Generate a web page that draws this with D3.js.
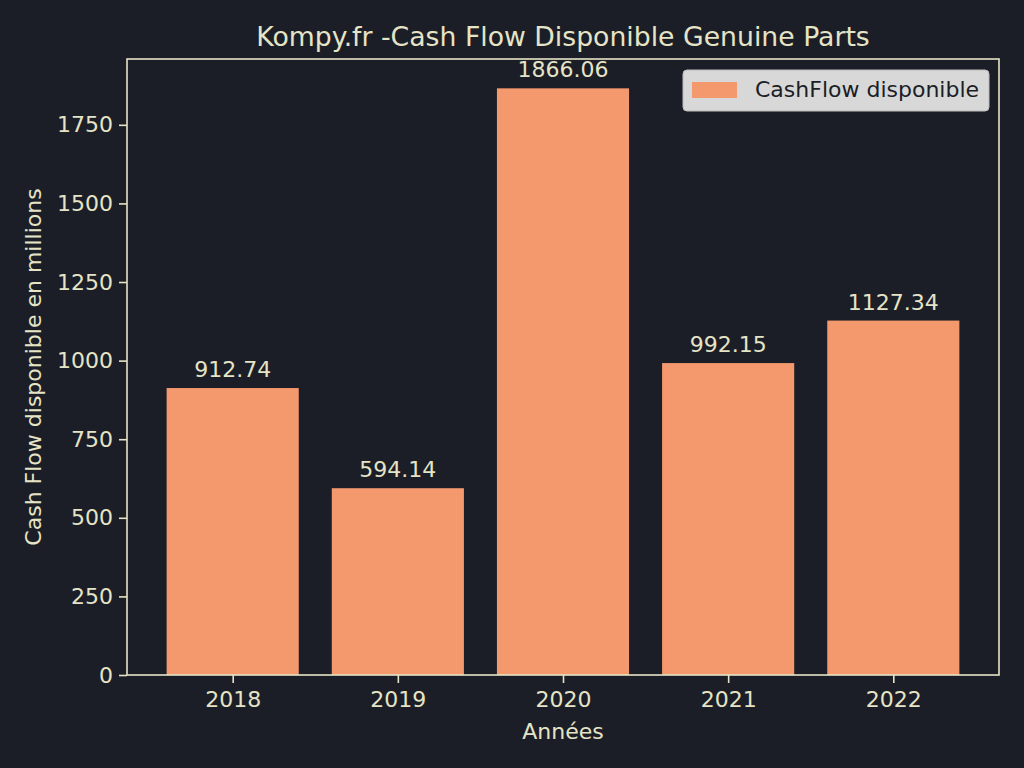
<!DOCTYPE html>
<html><head><meta charset="utf-8">
<script src="https://cdn.jsdelivr.net/npm/d3@7"></script>
<style>html,body{margin:0;padding:0;background:#1b1e26;}svg{display:block;}</style>
</head><body><svg id="c" width="1024" height="768"></svg>
<script>
const categories = ["2018","2019","2020","2021","2022"];
const values = [912.74, 594.14, 1866.06, 992.15, 1127.34];
const yTicks = [0,250,500,750,1000,1250,1500,1750];
const title = "Kompy.fr -Cash Flow Disponible Genuine Parts";
const xLabel = "Années";
const yLabel = "Cash Flow disponible en millions";
const legendLabel = "CashFlow disponible";

const W=1024,H=768;
const m={left:127,right:999,top:59,bottom:675};
const fg="#e6e4c6", barColor="#f4996e", font="DejaVu Sans, sans-serif";
const svg=d3.select("#c");
svg.append("rect").attr("width",W).attr("height",H).attr("fill","#1b1e26");

const n=categories.length;
const x=d3.scaleLinear().domain([-0.64,n-1+0.64]).range([m.left,m.right]);
const y=d3.scaleLinear().domain([0,d3.max(values)*1.05]).range([m.bottom,m.top]);
const bw=0.8;

svg.append("g").selectAll("rect").data(values).join("rect")
 .attr("x",(d,i)=>x(i-bw/2)).attr("width",(d,i)=>x(i+bw/2)-x(i-bw/2))
 .attr("y",d=>y(d)).attr("height",d=>y(0)-y(d)).attr("fill",barColor);

svg.append("g").selectAll("text").data(values).join("text")
 .attr("x",(d,i)=>x(i)).attr("y",d=>y(d)-11)
 .attr("text-anchor","middle").attr("fill",fg).attr("font-family",font).attr("font-size",22)
 .text(d=>d.toFixed(2));

// axes
const xAxis=d3.axisBottom(x).tickValues(d3.range(n)).tickFormat(i=>categories[i]).tickSizeOuter(0).tickSize(8).tickPadding(8);
const gx=svg.append("g").attr("transform",`translate(0,${m.bottom})`).call(xAxis);
const yAxis=d3.axisLeft(y).tickValues(yTicks).tickFormat(d3.format("d")).tickSizeOuter(0).tickSize(8).tickPadding(6);
const gy=svg.append("g").attr("transform",`translate(${m.left},0)`).call(yAxis);
[gx,gy].forEach(g=>{
 g.selectAll("path").remove();
 g.selectAll("line").attr("stroke",fg).attr("stroke-width",1.6);
 g.selectAll("text").attr("fill",fg).attr("font-family",font).attr("font-size",22);
});
// frame
svg.append("rect").attr("x",m.left).attr("y",m.top).attr("width",m.right-m.left).attr("height",m.bottom-m.top)
 .attr("fill","none").attr("stroke",fg).attr("stroke-width",1.6);

svg.append("text").attr("x",(m.left+m.right)/2).attr("y",46).attr("text-anchor","middle")
 .attr("fill",fg).attr("font-family",font).attr("font-size",26.7).text(title);
svg.append("text").attr("x",(m.left+m.right)/2).attr("y",739).attr("text-anchor","middle")
 .attr("fill",fg).attr("font-family",font).attr("font-size",22).text(xLabel);
svg.append("text").attr("transform",`translate(41,${(m.top+m.bottom)/2}) rotate(-90)`).attr("text-anchor","middle")
 .attr("fill",fg).attr("font-family",font).attr("font-size",22).text(yLabel);

// legend
const lg=svg.append("g");
lg.append("rect").attr("x",683).attr("y",70).attr("width",306).attr("height",41).attr("rx",4)
 .attr("fill","#d8d8d8").attr("stroke","#bcbcbc").attr("stroke-width",1);
lg.append("rect").attr("x",692).attr("y",82).attr("width",45).attr("height",16).attr("fill",barColor);
lg.append("text").attr("x",755).attr("y",97).attr("fill","#1b1e26").attr("font-family",font).attr("font-size",22).text(legendLabel);
</script></body></html>
